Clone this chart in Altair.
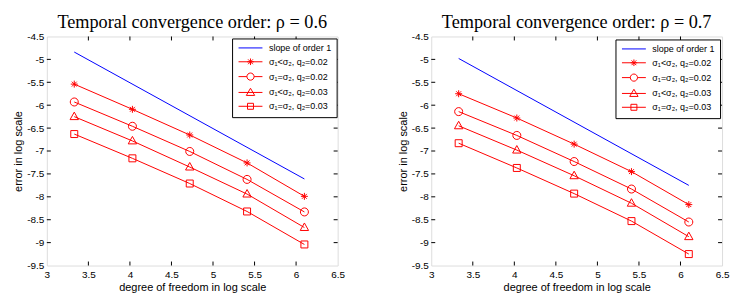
import altair as alt
import pandas as pd

# ---------------- data ----------------
dof = [3.33, 4.03, 4.72, 5.41, 6.10]
slope_dof = [3.33, 6.10]

series_names = ["σ₁<σ₂, q₂=0.02", "σ₁=σ₂, q₂=0.02", "σ₁<σ₂, q₂=0.03", "σ₁=σ₂, q₂=0.03"]
slope_name = "slope of order 1"

# rho = 0.6
err06_s1 = [-5.54, -6.09, -6.65, -7.26, -7.99]
err06_s2 = [-5.93, -6.46, -7.01, -7.62, -8.33]
err06_s3 = [-6.25, -6.78, -7.35, -7.94, -8.67]
err06_s4 = [-6.63, -7.16, -7.71, -8.32, -9.04]
slope06 = [-4.84, -7.61]

# rho = 0.7
err07_s1 = [-5.75, -6.28, -6.85, -7.45, -8.17]
err07_s2 = [-6.14, -6.66, -7.23, -7.83, -8.55]
err07_s3 = [-6.45, -6.98, -7.54, -8.14, -8.87]
err07_s4 = [-6.83, -7.37, -7.93, -8.53, -9.25]
slope07 = [-4.98, -7.75]

x_ticks = [3, 3.5, 4, 4.5, 5, 5.5, 6, 6.5]
y_ticks = [-9.5, -9, -8.5, -8, -7.5, -7, -6.5, -6, -5.5, -5, -4.5]
x_inner_ticks = [3.5, 4, 4.5, 5, 5.5, 6]
y_inner_ticks = [-9, -8.5, -8, -7.5, -7, -6.5, -6, -5.5, -5]

# ---------------- style ----------------
W, H = 292, 230
RED, BLUE = "#ff0000", "#0000ff"
all_names = [slope_name] + series_names

marker_paths = [
    "M-1,0H1M0,-1V1M-0.7,-0.7L0.7,0.7M-0.7,0.7L0.7,-0.7",
    "M1.15,0A1.15,1.15 0 1 1 -1.15,0A1.15,1.15 0 1 1 1.15,0Z",
    "M0,-1.3L1.2,0.85L-1.2,0.85Z",
    "M-1,-1H1V1H-1Z",
]
legend_paths = [
    "M-1,0H7",
    "M-1,0H7M1.9,0H4.1M3,-1.1V1.1M2.2,-0.8L3.8,0.8M2.2,0.8L3.8,-0.8",
    "M-1,0H1.8M4.2,0H7M4.2,0A1.2,1.2 0 1 1 1.8,0A1.2,1.2 0 1 1 4.2,0Z",
    "M-1,0H7M3,-1.4L4.4,1L1.6,1Z",
    "M-1,0H7M2,-1H4V1H2Z",
]

label_expr = "replace('' + datum.value, '\u2212', '-')"


def panel(title, curves, slope, leg_x, leg_y):
    rows = []
    for name, ys in zip(series_names, curves):
        for x, y in zip(dof, ys):
            rows.append({"dof": x, "err": y, "series": name})
    for x, y in zip(slope_dof, slope):
        rows.append({"dof": x, "err": y, "series": slope_name})
    df = pd.DataFrame(rows)

    xscale = alt.Scale(domain=[3, 6.5], nice=False, zero=False)
    yscale = alt.Scale(domain=[-9.5, -4.5], nice=False, zero=False)
    color_scale = alt.Scale(domain=all_names, range=[BLUE, RED, RED, RED, RED])

    xaxis = alt.Axis(title="degree of freedom in log scale", values=x_ticks, ticks=False,
                     domain=False, grid=False, labelExpr=label_expr, labelFlush=False,
                     labelPadding=4, titlePadding=2, titleFontWeight="normal")
    yaxis = alt.Axis(title="error in log scale", values=y_ticks, ticks=False,
                     domain=False, grid=False, labelExpr=label_expr, labelPadding=3,
                     titlePadding=3, titleFontWeight="normal")
    X = alt.X("dof:Q", scale=xscale, axis=xaxis)
    Y = alt.Y("err:Q", scale=yscale, axis=yaxis)

    base = alt.Chart(df)
    lines = base.mark_line(strokeWidth=1).encode(
        x=X, y=Y,
        color=alt.Color("series:N", scale=color_scale, legend=None),
    )
    points = base.transform_filter(alt.datum.series != slope_name).mark_point(
        filled=False, size=49, strokeWidth=1, color=RED, opacity=1
    ).encode(
        x=X, y=Y,
        shape=alt.Shape("series:N", scale=alt.Scale(domain=series_names, range=marker_paths), legend=None),
    )
    leg = alt.Legend(title=None, orient="none", legendX=leg_x, legendY=leg_y,
                     strokeColor="black", fillColor="white", padding=5,
                     labelFont="Liberation Sans", labelFontSize=9, labelColor="black",
                     labelOffset=23, rowPadding=2.9, symbolSize=36, symbolStrokeWidth=1,
                     symbolOpacity=1, symbolFillColor="transparent")
    legend_layer = base.transform_filter("false").mark_point(filled=False, size=36, strokeWidth=1).encode(
        x=X, y=Y,
        color=alt.Color("series:N", scale=color_scale, legend=leg),
        shape=alt.Shape("series:N", scale=alt.Scale(domain=all_names, range=legend_paths), legend=leg),
    )

    xt = pd.DataFrame({"dof": x_inner_ticks})
    yt = pd.DataFrame({"err": y_inner_ticks})
    rule = dict(color="black", strokeWidth=1)
    xt_bottom = alt.Chart(xt).mark_rule(**rule).encode(x=X, y=alt.value(H), y2=alt.value(H - 4))
    xt_top = alt.Chart(xt).mark_rule(**rule).encode(x=X, y=alt.value(0), y2=alt.value(4))
    yt_left = alt.Chart(yt).mark_rule(**rule).encode(y=Y, x=alt.value(0), x2=alt.value(4))
    yt_right = alt.Chart(yt).mark_rule(**rule).encode(y=Y, x=alt.value(W), x2=alt.value(W - 4))

    return alt.layer(lines, points, legend_layer, xt_bottom, xt_top, yt_left, yt_right).resolve_scale(
        color="independent", shape="independent"
    ).properties(
        width=W, height=H,
        title=alt.TitleParams(title, font="Liberation Serif", fontSize=18.3, fontWeight="normal",
                              color="black", anchor="middle", frame="group", offset=-1),
    )


left = panel("Temporal convergence order: ρ = 0.6",
             [err06_s1, err06_s2, err06_s3, err06_s4], slope06, 186, 2)
right = panel("Temporal convergence order: ρ = 0.7",
              [err07_s1, err07_s2, err07_s3, err07_s4], slope07, 185, 3)

chart = alt.hconcat(left, right, spacing=51).properties(
    padding={"left": 4, "top": 4, "right": 2, "bottom": 2}
).configure_view(stroke="black", strokeWidth=1).configure_axis(
    labelFont="Liberation Sans", labelFontSize=10, labelColor="black",
    titleFont="Liberation Sans", titleFontSize=9, titleFontWeight="normal", titleColor="black",
).configure_legend(strokeWidth=1.5).configure(background="white")

chart.save("out.html", embed_options={"renderer": "svg", "actions": False})
